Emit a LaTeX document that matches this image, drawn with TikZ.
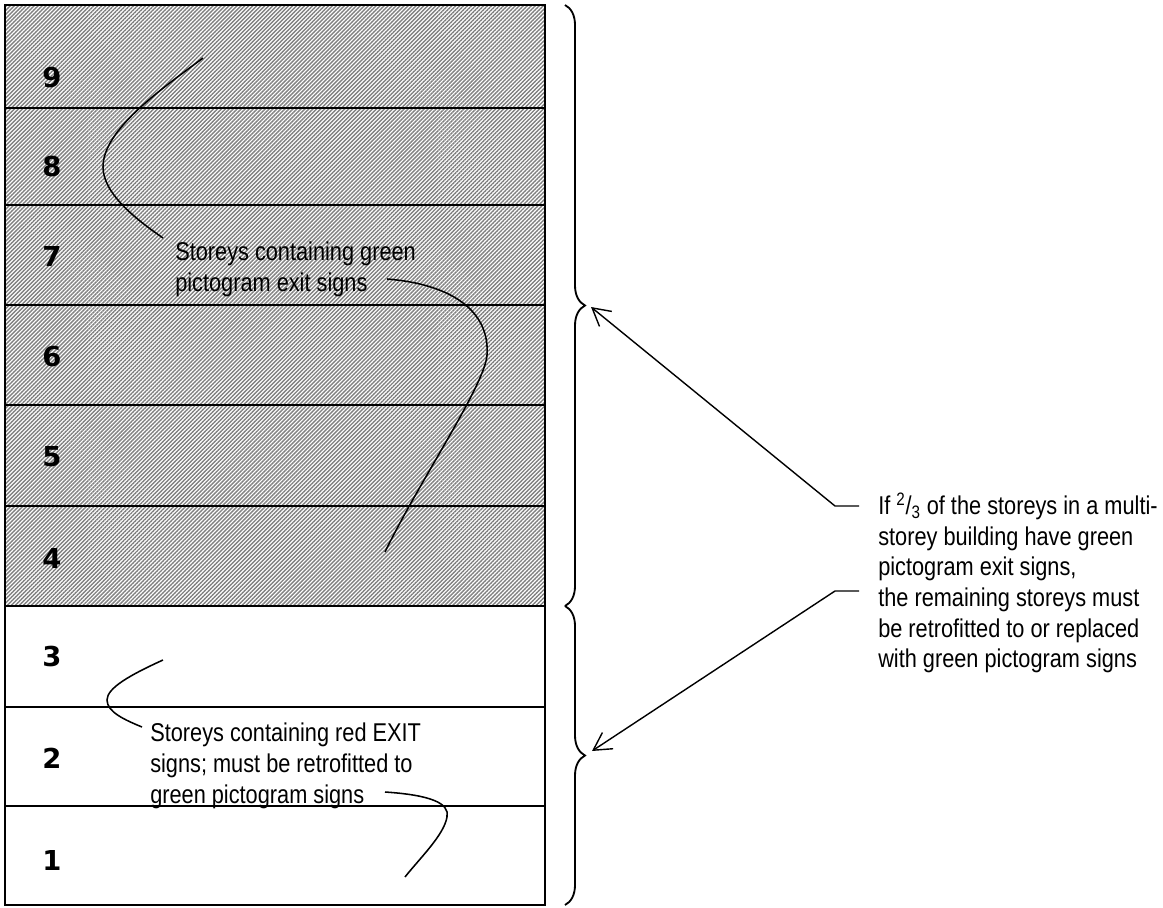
\documentclass[tikz,border=0pt]{standalone}
\usepackage{fontspec}
\setmainfont[FakeStretch=0.845]{Liberation Sans}
\newfontfamily\floorfont{DejaVu Sans}
\usetikzlibrary{arrows.meta,decorations.pathreplacing,patterns.meta}

\begin{document}
\begin{tikzpicture}[x=0.025cm,y=-0.025cm,font=\fontsize{18.3}{21.8}\selectfont,
  floornum/.style={font=\floorfont\bfseries\fontsize{19.5}{22}\selectfont,inner sep=0pt},
  note/.style={anchor=north west,inner sep=0pt,align=left},
  leader/.style={line width=1.1pt},
  pointer/.style={line width=1pt,-{Straight Barb[length=12.4pt,width=13.8pt,line width=1pt]}}]
\useasboundingbox (0,0) rectangle (1163,907);
\fill[pattern={Lines[angle=45,distance=2pt,line width=1pt]},pattern color=black!50] (5,5) rectangle (545,606);
\foreach \y in {108,205,305,405,506,606,707,806}
  \draw[line width=1.3pt] (5,\y) -- (545,\y);
\draw[line width=1.4pt] (5,5) rectangle (545,905);
\foreach \n/\y in {9/78,8/167,7/257,6/357,5/457,4/558,3/657,2/758,1/860}
  \node[floornum] (f\n) at (52,\y) {\n};
\draw[line width=1.3pt,decorate,decoration={brace,amplitude=0.5cm}] (565,5) -- (565,606);
\draw[line width=1.3pt,decorate,decoration={brace,amplitude=0.5cm}] (565,606) -- (565,905);
\node[note] (green) at (175,242) {Storeys containing green\\pictogram exit signs};
\node[note] (red) at (150,723) {Storeys containing red EXIT\\signs; must be retrofitted to\\green pictogram signs};
\node[note] (rule) at (878,493) {If \textsuperscript{2}/\textsubscript{3} of the storeys in a multi-\\storey building have green\\pictogram exit signs,\\the remaining storeys must\\be retrofitted to or replaced\\with green pictogram signs};
\coordinate (gtop) at (203,58);
\coordinate (gin) at (163,238);
\coordinate (gout) at (387,279);
\coordinate (gbot) at (385,552);
\coordinate (rtop) at (163,660);
\coordinate (rin) at (142,727);
\coordinate (rout) at (385,792);
\coordinate (rbot) at (405,877);
\draw[leader] (gtop) .. controls (160,90) and (103,130) .. (103,167) .. controls (103,195) and (140,222) .. (gin);
\draw[leader] (gout) .. controls (450,284) and (490,310) .. (487,355) .. controls (485,385) and (420,480) .. (gbot);
\draw[leader] (rtop) .. controls (130,675) and (107,688) .. (107,700) .. controls (107,712) and (125,720) .. (rin);
\draw[leader] (rout) .. controls (430,795) and (450,803) .. (447,817) .. controls (444,835) and (420,858) .. (rbot);
\coordinate (tipA) at (591,307);
\coordinate (tipB) at (592,751);
\coordinate (kneeA) at (835,506);
\coordinate (kneeB) at (835,591);
\coordinate (stubA) at (859,506);
\coordinate (stubB) at (859,591);
\draw[pointer] (stubA) -- (kneeA) -- (tipA);
\draw[pointer] (stubB) -- (kneeB) -- (tipB);
\end{tikzpicture}
\end{document}
